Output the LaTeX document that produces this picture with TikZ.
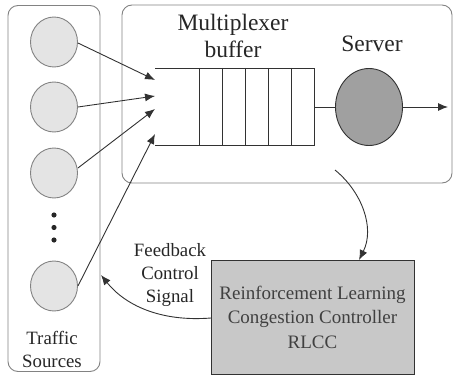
\documentclass[tikz,border=0pt]{standalone}
\usepackage{fontspec}
\setmainfont{Liberation Serif}
\usetikzlibrary{arrows.meta,shapes.geometric}
\definecolor{edgegray}{RGB}{130,130,130}
\definecolor{linegray}{RGB}{50,50,50}
\definecolor{srcfill}{RGB}{228,228,228}
\definecolor{srvfill}{RGB}{160,160,160}
\definecolor{boxfill}{RGB}{200,200,200}
\tikzset{
  x=1pt, y=-1pt,
  panel/.style={draw=edgegray, line width=0.9pt, rounded corners=10pt},
  srcnode/.style={ellipse, draw=edgegray, line width=0.9pt, fill=srcfill, minimum width=47pt, minimum height=50pt, inner sep=0pt},
  arr/.style={draw=linegray, line width=0.9pt, -{Latex[length=10pt,width=8pt]}},
  qline/.style={draw=linegray, line width=0.9pt},
  bigtxt/.style={font=\rmfamily\fontsize{23.5}{27}\selectfont, text=black!85, align=center, inner sep=0pt},
  smalltxt/.style={font=\rmfamily\fontsize{18.8}{23}\selectfont, text=black!85, align=center, inner sep=0pt},
  boxtxt/.style={font=\rmfamily\fontsize{19}{24.5}\selectfont, text=black!75, align=center, inner sep=0pt}
}
\begin{document}
\begin{tikzpicture}
\useasboundingbox (0,0) rectangle (454,377);
% panels
\node[panel, minimum width=92pt, minimum height=366pt, inner sep=0pt] (srcbox) at (54,188.5) {};
\node[panel, minimum width=330pt, minimum height=178pt, inner sep=0pt] (mainbox) at (287,94) {};
% sources
\node[srcnode] (s1) at (54,42) {};
\node[srcnode] (s2) at (54,107) {};
\node[srcnode] (s3) at (54,173) {};
\node[srcnode] (s4) at (54,286) {};
\foreach \yy in {215,227.5,240} \fill[black!85] (54,\yy) circle (2.6pt);
\node[smalltxt] (traffic) at (52,349) {Traffic\\Sources};
% queue
\draw[qline] (155,68) -- (314,68) -- (314,145) -- (155,145);
\foreach \xx in {199,222,245,268,291} \draw[qline] (\xx,68) -- (\xx,145);
\coordinate (qend) at (314,107);
\coordinate (q1) at (155,80);
\coordinate (q2) at (155,96);
\coordinate (q3) at (155,109);
\coordinate (q4) at (155,134);
\node[bigtxt] (mux) at (233,36) {Multiplexer\\buffer};
% server
\node[ellipse, draw=linegray, line width=0.9pt, fill=srvfill, minimum width=67pt, minimum height=77pt, inner sep=0pt] (srv) at (369,107) {};
\node[bigtxt] (srvlbl) at (372,44) {Server};
\coordinate (out) at (448,107);
\draw[qline] (qend) -- (srv.west);
\draw[arr] (srv.east) -- (out);
% input arrows
\draw[arr] (s1.east) ++(0,1) -- (q1);
\draw[arr] (s2.east) -- (q2);
\draw[arr] (s3.east) ++(0,-5) -- (q3);
\draw[arr] (s4.east) -- (q4);
% RLCC
\node[draw=linegray, line width=1pt, fill=boxfill, minimum width=203pt, minimum height=114pt, inner sep=0pt] (rlcc) at (312.5,317) {};
\node[boxtxt] (rlcctxt) at (312.5,317) {Reinforcement Learning\\Congestion Controller\\RLCC};
% feedback arrows
\coordinate (mstart) at (335,170);
\coordinate (rtop) at (359,260);
\draw[arr] (mstart) .. controls (362,192) and (375,228) .. (rtop);
\coordinate (rleft) at (211,318);
\coordinate (fbend) at (101,275);
\draw[arr] (rleft) .. controls (160,322) and (125,305) .. (fbend);
\node[smalltxt] (fb) at (170,275) {Feedback\\Control\\Signal};
\end{tikzpicture}
\end{document}
